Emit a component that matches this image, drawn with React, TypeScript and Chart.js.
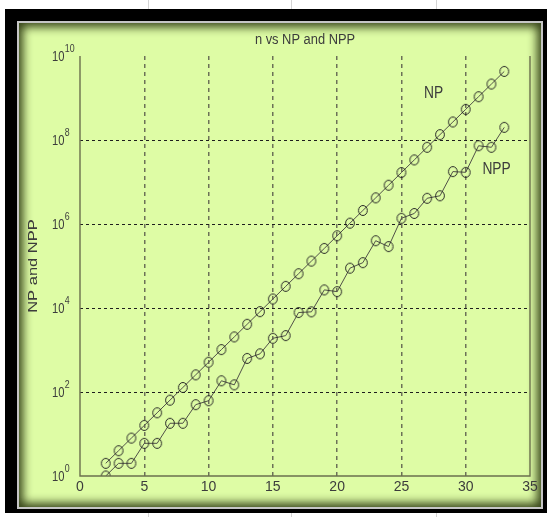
import { useEffect, useRef } from "react";
import { Chart, registerables } from "chart.js";

Chart.register(...registerables);

// ---- data ----
const nValues = [2, 3, 4, 5, 6, 7, 8, 9, 10, 11, 12, 13, 14, 15, 16, 17, 18, 19, 20, 21, 22, 23, 24, 25, 26, 27, 28, 29, 30, 31, 32, 33];
const npValues = [
  2, 4, 8, 16, 32, 64, 128, 256, 512, 1024, 2048, 4096, 8192, 16384, 32768, 65536,
  131072, 262144, 524288, 1048576, 2097152, 4194304, 8388608, 16777216, 33554432,
  67108864, 134217728, 268435456, 536870912, 1073741824, 2147483648, 4294967296,
];
const nppValues = [
  1, 2, 2, 6, 6, 18, 18, 50, 62, 185, 148, 630, 810, 1900, 2200, 7800, 8100, 27000,
  24500, 89000, 120000, 400000, 290000, 1370000, 1780000, 4100000, 4700000, 17700000,
  17000000, 73000000, 67000000, 200000000,
];
const xTicks = [0, 5, 10, 15, 20, 25, 30, 35];
const yTicks = [1, 1e2, 1e4, 1e6, 1e8, 1e10];
const yTickExponents = ["0", "2", "4", "6", "8", "10"];
const titleText = "n vs NP and NPP";
const yAxisTitle = "NP and NPP";
const seriesNames = ["NP", "NPP"];
const seriesLabelAnchors = [
  { x: 27.5, y: 1.3e9 },
  { x: 32.4, y: 2.0e7 },
];

const W = 551;
const H = 517;
const TEXT = "#3c3c3c";
const FONT = '"Liberation Sans", Arial, Helvetica, sans-serif';

function makeMarker(): HTMLCanvasElement {
  const c = document.createElement("canvas");
  c.width = 12;
  c.height = 13;
  const g = c.getContext("2d")!;
  g.strokeStyle = "#262626";
  g.lineWidth = 1;
  g.beginPath();
  g.ellipse(6, 6.5, 4.4, 5, 0, 0, Math.PI * 2);
  g.stroke();
  return c;
}

const textPlugin = {
  id: "matlabText",
  afterDraw(chart: any) {
    const ctx = chart.ctx as CanvasRenderingContext2D;
    const area = chart.chartArea;
    const xs = chart.scales.x;
    const ys = chart.scales.y;
    ctx.save();
    // axes box (left, bottom, right)
    ctx.strokeStyle = "#6b6f4d";
    ctx.lineWidth = 1.4;
    ctx.beginPath();
    ctx.moveTo(area.left, area.top);
    ctx.lineTo(area.left, area.bottom);
    ctx.lineTo(area.right, area.bottom);
    ctx.lineTo(area.right, area.top);
    ctx.stroke();

    ctx.fillStyle = TEXT;
    // y tick labels 10^k
    yTicks.forEach((v, i) => {
      const y = ys.getPixelForValue(v);
      ctx.font = `14px ${FONT}`;
      ctx.textAlign = "left";
      ctx.textBaseline = "middle";
      ctx.save();
      ctx.translate(52, y + 1);
      ctx.scale(0.8, 1.05);
      ctx.fillText("10", 0, 0);
      const w = ctx.measureText("10").width;
      ctx.font = `11px ${FONT}`;
      ctx.fillText(yTickExponents[i], w + 0.5, -8);
      ctx.restore();
    });

    // title
    ctx.font = `14px ${FONT}`;
    ctx.textAlign = "center";
    ctx.textBaseline = "middle";
    ctx.save();
    ctx.translate((area.left + area.right) / 2, 40);
    ctx.scale(0.92, 1.05);
    ctx.fillText(titleText, 0, 0);
    ctx.restore();

    // y axis title
    ctx.save();
    ctx.translate(33, (area.top + area.bottom) / 2);
    ctx.rotate(-Math.PI / 2);
    ctx.font = `14px ${FONT}`;
    ctx.scale(1.18, 0.95);
    ctx.fillText(yAxisTitle, 0, 0);
    ctx.restore();

    // series labels
    ctx.font = `15px ${FONT}`;
    seriesNames.forEach((name, i) => {
      const a = seriesLabelAnchors[i];
      ctx.save();
      ctx.translate(xs.getPixelForValue(a.x), ys.getPixelForValue(a.y));
      ctx.scale(0.92, 1.1);
      ctx.fillText(name, 0, 0);
      ctx.restore();
    });
    ctx.restore();
  },
};

export default function App() {
  const ref = useRef<HTMLCanvasElement | null>(null);

  useEffect(() => {
    if (!ref.current) return;
    const marker = makeMarker();
    const mk = (vals: number[]) => nValues.map((n, i) => ({ x: n, y: vals[i] }));
    const chart = new Chart(ref.current, {
      type: "line",
      data: {
        datasets: [
          {
            label: seriesNames[0],
            data: mk(npValues),
            borderColor: "#505048",
            borderWidth: 1,
            pointStyle: marker as any,
            pointRadius: 5,
            pointBackgroundColor: "transparent",
            pointBorderColor: "#262626",
            tension: 0,
          },
          {
            label: seriesNames[1],
            data: mk(nppValues),
            borderColor: "#505048",
            borderWidth: 1,
            pointStyle: marker as any,
            pointRadius: 5,
            pointBackgroundColor: "transparent",
            pointBorderColor: "#262626",
            tension: 0,
          },
        ],
      },
      options: {
        animation: false,
        responsive: false,
        devicePixelRatio: 1,
        layout: { padding: { left: 0, top: 56, right: 21, bottom: 0 } },
        plugins: {
          legend: { display: false },
          title: { display: false },
          tooltip: { enabled: false },
        },
        scales: {
          x: {
            type: "linear",
            min: 0,
            max: 35,
            afterFit: (s: any) => {
              s.height = 41;
            },
            afterBuildTicks: (s: any) => {
              s.ticks = xTicks.map((v) => ({ value: v }));
            },
            ticks: {
              color: TEXT,
              font: { family: FONT, size: 14 },
              padding: 3,
              maxRotation: 0,
              autoSkip: false,
            },
            grid: {
              drawTicks: false,
              lineWidth: 1.5,
              color: (c: any) =>
                c.tick && (c.tick.value === 0 || c.tick.value === 35) ? "rgba(0,0,0,0)" : "rgba(95,98,80,0.9)",
            },
            border: { display: false, dash: [4, 4] },
          },
          y: {
            type: "logarithmic",
            min: 1,
            max: 1e10,
            afterFit: (s: any) => {
              s.width = 80;
            },
            afterBuildTicks: (s: any) => {
              s.ticks = yTicks.map((v) => ({ value: v }));
            },
            ticks: { display: false },
            grid: {
              drawTicks: false,
              lineWidth: 1,
              color: (c: any) =>
                c.tick && (c.tick.value === 1 || c.tick.value === 1e10) ? "rgba(0,0,0,0)" : "#1e1e1e",
            },
            border: { display: false, dash: [3, 3] },
          },
        },
      },
      plugins: [textPlugin],
    });
    return () => chart.destroy();
  }, []);

  const faint = (x: number, top: number, h: number) => (
    <div style={{ position: "absolute", left: x, top, width: 1, height: h, background: "#d4d4d4" }} />
  );

  return (
    <div style={{ position: "fixed", left: 0, top: 0, width: W, height: H, background: "#ffffff", overflow: "hidden" }}>
      {faint(148, 0, 9)}
      {faint(291, 0, 9)}
      {faint(436, 0, 9)}
      {faint(148, 513, 4)}
      {faint(291, 513, 4)}
      {faint(436, 513, 4)}
      <div style={{ position: "absolute", left: 5, top: 9, width: 542, height: 504, background: "#000" }} />
      <div
        style={{
          position: "absolute",
          left: 17,
          top: 21,
          width: 526,
          height: 488,
          boxSizing: "border-box",
          border: "2px solid #c6c6c6",
        }}
      />
      <div
        style={{
          position: "absolute",
          left: 19,
          top: 23,
          width: 522,
          height: 484,
          background: "#defca5",
          boxShadow: "inset 0 0 10px 4px rgba(25,35,0,0.85)",
        }}
      />
      <canvas
        ref={ref}
        width={W}
        height={H}
        style={{ position: "absolute", left: 0, top: 0, width: W, height: H }}
      />
    </div>
  );
}
